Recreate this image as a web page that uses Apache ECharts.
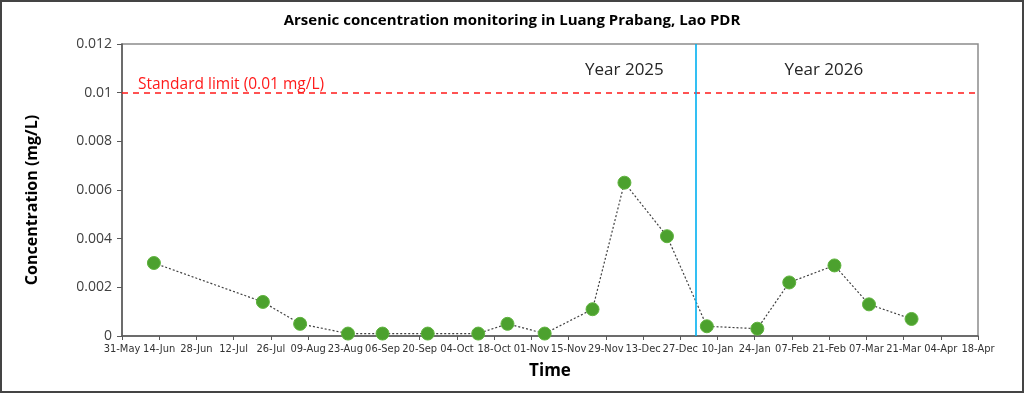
<!DOCTYPE html>
<html>
<head>
<meta charset="utf-8">
<script src="https://cdn.jsdelivr.net/npm/echarts@6/dist/echarts.min.js"></script>
<style>
html,body{margin:0;padding:0;background:#fff;}
#frame{position:absolute;left:0;top:0;width:1020px;height:389px;border:2px solid #444;}
#chart{position:absolute;left:0;top:0;width:1024px;height:393px;}
</style>
</head>
<body>
<div id="frame"></div>
<div id="chart"></div>
<script>
// ---- data ----
const sampleDates = ['2025-06-12','2025-07-23','2025-08-06','2025-08-24','2025-09-06','2025-09-23','2025-10-12','2025-10-23','2025-11-06','2025-11-24','2025-12-06','2025-12-22','2026-01-06','2026-01-25','2026-02-06','2026-02-23','2026-03-08','2026-03-24'];
const arsenic = [0.003,0.0014,0.0005,0.0001,0.0001,0.0001,0.0001,0.0005,0.0001,0.0011,0.0063,0.0041,0.0004,0.0003,0.0022,0.0029,0.0013,0.0007];
const axisStart = '2025-05-31';
const axisEnd = '2026-04-18';
const tickStepDays = 14;
const yearDivider = '2026-01-02';
const standardLimit = 0.01;
const yTicks = [0,0.002,0.004,0.006,0.008,0.01,0.012];
const yearLabels = [['Year 2025','2025-12-06'],['Year 2026','2026-02-19']];
const limitLabel = 'Standard limit (0.01 mg/L)';
const months = ['Jan','Feb','Mar','Apr','May','Jun','Jul','Aug','Sep','Oct','Nov','Dec'];

function utc(s){const p=s.split('-').map(Number);return Date.UTC(p[0],p[1]-1,p[2]);}
const origin = utc(axisStart);
function day(s){return Math.round((utc(s)-origin)/86400000);}
function fmt(v){const d=new Date(origin+v*86400000);return String(d.getUTCDate()).padStart(2,'0')+'-'+months[d.getUTCMonth()];}

const chart = echarts.init(document.getElementById('chart'));
const labelFont = "'DejaVu Sans Condensed','Liberation Sans Narrow',sans-serif";
chart.setOption({
  animation:false,
  title:{text:'Arsenic concentration monitoring in Luang Prabang, Lao PDR',left:'center',top:8,
    textStyle:{fontSize:15,fontWeight:'bold',color:'#000',fontFamily:"'Open Sans',sans-serif"}},
  grid:{left:122,right:46,top:44,bottom:57,show:true,borderColor:'#8c8c8c',borderWidth:1.5},
  xAxis:{type:'value',min:0,max:day(axisEnd),interval:tickStepDays,
    name:'Time',nameLocation:'middle',nameGap:27,
    nameTextStyle:{fontSize:17,fontWeight:'bold',color:'#000',fontFamily:"'Open Sans',sans-serif"},
    axisLine:{lineStyle:{color:'#595959',width:1.5}},
    axisTick:{show:true,length:4,lineStyle:{color:'#595959'}},
    splitLine:{show:false},
    axisLabel:{formatter:fmt,fontSize:11,color:'#333',margin:8,fontFamily:labelFont,
      interval:0,showMinLabel:true,showMaxLabel:true,hideOverlap:false}},
  yAxis:{type:'value',min:yTicks[0],max:yTicks[yTicks.length-1],interval:0.002,
    name:'Concentration (mg/L)',nameLocation:'middle',nameGap:82,
    nameTextStyle:{fontSize:16,fontWeight:'bold',color:'#000',fontFamily:"'Open Sans',sans-serif",padding:[0,20,0,0]},
    axisLine:{show:true,lineStyle:{color:'#595959',width:1.5}},
    axisTick:{show:true,length:5,lineStyle:{color:'#595959'}},
    splitLine:{show:false},
    axisLabel:{formatter:v=>String(+v.toFixed(3)),fontSize:14,color:'#404040',margin:10,fontFamily:"'Open Sans',sans-serif"}},
  series:[{
    type:'line',
    data:sampleDates.map((d,i)=>[day(d),arsenic[i]]),
    symbol:'circle',symbolSize:13,
    itemStyle:{color:'#4ca12e',borderColor:'#5fb33e',borderWidth:1},
    lineStyle:{color:'#404040',width:1.2,type:[2,2]},
    markLine:{silent:true,symbol:'none',label:{show:false},
      data:[
        {yAxis:standardLimit,lineStyle:{color:'#ff1a1a',type:[6,5],width:1.6}},
        {xAxis:day(yearDivider),lineStyle:{color:'#00b0f0',type:'solid',width:1.6}}
      ]},
    markPoint:{silent:true,symbol:'circle',symbolSize:0,
      data:[
        ...yearLabels.map(([t,d])=>({coord:[day(d),0.01094],value:t,
          label:{show:true,formatter:t,fontSize:17,color:'#262626',fontFamily:"'Open Sans',sans-serif",position:'inside'}})),
        {coord:[6,0.01033],value:limitLabel,
          label:{show:true,formatter:limitLabel,fontSize:15.5,color:'#ff1a1a',align:'left',position:'inside',fontFamily:"'Open Sans',sans-serif"}}
      ]}
  }]
});
</script>
</body>
</html>
